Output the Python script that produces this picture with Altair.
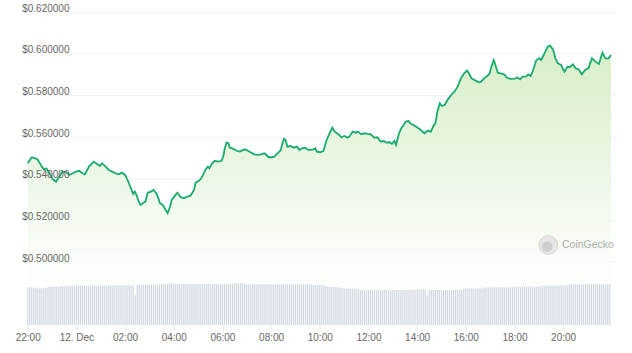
import altair as alt
import pandas as pd

# ---- price series (minutes after 11 Dec 22:00 UTC, price in USD) ----
price_minutes = [
    0, 10, 18, 24, 34, 40, 46, 54, 62, 70,
    78, 86, 95, 103, 111, 119, 127, 135, 141, 151,
    163, 171, 178, 183, 192, 200, 208, 216, 224, 232,
    240, 248, 256, 260, 264, 268, 272, 278, 284, 290,
    296, 304, 310, 317, 323, 326, 333, 339, 345, 351,
    355, 361, 369, 377, 385, 393, 401, 410, 414, 422,
    428, 434, 438, 444, 448, 454, 461, 469, 478, 482,
    486, 490, 495, 498, 507, 515, 523, 535, 543, 551,
    559, 567, 575, 583, 587, 594, 601, 608, 616, 624,
    628, 632, 636, 640, 648, 656, 664, 670, 676, 684,
    692, 696, 704, 709, 713, 721, 729, 737, 745, 751,
    757, 765, 773, 781, 788, 793, 801, 808, 814, 822,
    830, 838, 846, 854, 862, 870, 878, 884, 892, 898,
    904, 908, 915, 921, 927, 932, 939, 943, 955, 967,
    978, 986, 994, 1000, 1005, 1010, 1016, 1021, 1028, 1036,
    1044, 1052, 1060, 1068, 1076, 1083, 1088, 1094, 1104, 1113,
    1118, 1125, 1133, 1139, 1143, 1149, 1153, 1159, 1165, 1175,
    1181, 1189, 1201, 1207, 1214, 1220, 1228, 1234, 1240, 1246,
    1254, 1261, 1266, 1274, 1282, 1288, 1295, 1301, 1307, 1315,
    1323, 1331, 1336, 1344, 1351, 1358, 1366, 1374, 1382, 1391,
    1400, 1408, 1417, 1424, 1432, 1438,
]
prices = [
    0.5475, 0.5504, 0.5499, 0.5494, 0.5462, 0.5446, 0.5451, 0.5427, 0.5398, 0.5387,
    0.5411, 0.5435, 0.5432, 0.5419, 0.5427, 0.5435, 0.5439, 0.5427, 0.5422, 0.5459,
    0.5483, 0.5472, 0.5462, 0.5475, 0.5459, 0.5443, 0.5435, 0.5427, 0.5422, 0.5430,
    0.5419, 0.5387, 0.5347, 0.5328, 0.5339, 0.5323, 0.5299, 0.5275, 0.5283, 0.5291,
    0.5334, 0.5339, 0.5347, 0.5331, 0.5302, 0.5283, 0.5275, 0.5254, 0.5235, 0.5267,
    0.5299, 0.5315, 0.5334, 0.5312, 0.5307, 0.5315, 0.5318, 0.5347, 0.5382, 0.5391,
    0.5403, 0.5427, 0.5443, 0.5459, 0.5451, 0.5472, 0.5487, 0.5483, 0.5487, 0.5507,
    0.5547, 0.5574, 0.5571, 0.5550, 0.5544, 0.5535, 0.5531, 0.5542, 0.5535, 0.5526,
    0.5518, 0.5515, 0.5518, 0.5523, 0.5518, 0.5504, 0.5504, 0.5507, 0.5523, 0.5539,
    0.5571, 0.5592, 0.5587, 0.5555, 0.5558, 0.5550, 0.5555, 0.5539, 0.5547, 0.5550,
    0.5539, 0.5539, 0.5542, 0.5547, 0.5531, 0.5528, 0.5534, 0.5587, 0.5622, 0.5646,
    0.5627, 0.5616, 0.5600, 0.5606, 0.5598, 0.5603, 0.5627, 0.5622, 0.5627, 0.5614,
    0.5619, 0.5616, 0.5614, 0.5598, 0.5600, 0.5579, 0.5582, 0.5574, 0.5576, 0.5568,
    0.5582, 0.5563, 0.5616, 0.5644, 0.5659, 0.5675, 0.5678, 0.5667, 0.5654, 0.5638,
    0.5619, 0.5631, 0.5627, 0.5654, 0.5667, 0.5723, 0.5763, 0.5750, 0.5755, 0.5782,
    0.5803, 0.5819, 0.5843, 0.5883, 0.5907, 0.5920, 0.5907, 0.5883, 0.5872, 0.5864,
    0.5867, 0.5883, 0.5894, 0.5907, 0.5939, 0.5971, 0.5947, 0.5910, 0.5907, 0.5902,
    0.5887, 0.5880, 0.5881, 0.5888, 0.5878, 0.5891, 0.5891, 0.5902, 0.5894, 0.5923,
    0.5971, 0.5979, 0.5971, 0.6003, 0.6035, 0.6040, 0.6022, 0.5979, 0.5955, 0.5947,
    0.5915, 0.5939, 0.5936, 0.5950, 0.5931, 0.5926, 0.5902, 0.5923, 0.5931, 0.5979,
    0.5963, 0.5952, 0.6006, 0.5979, 0.5979, 0.5995,
]

# ---- volume bars, one per 5 minutes (arbitrary units) ----
volumes = [
    3.78, 3.74, 3.77, 3.72, 3.76,
    3.66, 3.68, 3.65, 3.69, 3.70,
    3.82, 3.84, 3.81, 3.85, 3.83, 3.80,
    3.88, 3.91, 3.90, 3.86, 3.92, 3.89, 3.93, 3.90,
    3.96, 3.98, 3.95, 3.97, 3.99, 3.96, 3.94,
    3.92, 3.94, 3.90, 3.93, 3.95, 3.91, 3.93, 3.96, 3.92, 3.94, 3.97, 3.95,
    3.97, 3.99, 3.96, 3.98, 4.00, 3.95, 3.97, 3.99, 3.98, 3.96,
    3.02,
    4.02, 4.04, 4.01, 4.05, 4.03, 4.00, 4.06, 4.02, 4.04, 4.07, 4.03, 4.05, 4.08, 4.12, 4.06, 4.04,
    4.18, 4.15, 4.17,
    4.10, 4.08, 4.11, 4.09, 4.12, 4.10, 4.07, 4.11, 4.13, 4.09, 4.10, 4.12,
    4.08, 4.11, 4.10, 4.09, 4.13, 4.11, 4.08, 4.10, 4.12, 4.09, 4.07,
    4.06, 4.08, 4.05, 4.07, 4.09,
    4.15, 4.18, 4.20, 4.16, 4.14, 4.19, 4.12,
    4.06, 4.08, 4.05, 4.07, 4.09, 4.06, 4.08, 4.07, 4.05, 4.08, 4.06, 4.09, 4.07, 4.06, 4.08, 4.07,
    4.05, 4.08, 4.09, 4.06, 4.07, 4.08, 4.06, 4.07, 4.09, 4.05, 4.07, 4.08, 4.06, 4.07, 4.09, 4.06,
    4.02, 4.00, 3.98, 4.01, 3.99, 4.03, 3.97, 3.95,
    3.88, 3.85, 3.83, 3.82, 3.80, 3.78,
    3.72, 3.70, 3.68, 3.66, 3.67, 3.65, 3.64, 3.62, 3.60, 3.58,
    3.52, 3.50, 3.51, 3.49, 3.50, 3.52, 3.48, 3.50, 3.51, 3.49, 3.47,
    3.50, 3.52, 3.49, 3.50, 3.48, 3.51, 3.50, 3.49, 3.52, 3.50, 3.48,
    3.51, 3.49, 3.50, 3.53, 3.57, 3.56, 3.58, 3.55, 3.57, 3.58, 3.54,
    3.00,
    3.48, 3.50, 3.52, 3.49, 3.51, 3.50, 3.48, 3.52, 3.51, 3.49, 3.50, 3.53, 3.51, 3.52, 3.50, 3.54, 3.55,
    3.66, 3.68, 3.65, 3.67, 3.69, 3.66, 3.64, 3.67, 3.68, 3.66,
    3.76, 3.78, 3.75, 3.77, 3.79, 3.76, 3.78, 3.74, 3.77, 3.79, 3.76, 3.78, 3.75, 3.77, 3.80, 3.78,
    3.82, 3.84, 3.81, 3.85, 3.83, 3.80, 3.84, 3.86, 3.82, 3.83, 3.85, 3.81, 3.84,
    3.92, 3.94, 3.91, 3.95, 3.93, 3.90, 3.96, 3.92, 3.94, 3.97, 3.93, 3.95, 3.98,
    4.05, 4.07, 4.04, 4.08, 4.06, 4.09, 4.05, 4.07, 4.10, 4.06, 4.08,
    4.07, 4.05, 4.09, 4.06, 4.08, 4.10, 4.07, 4.06, 4.09, 4.08,
]
volume_step_minutes = 5

y_tick_values = [0.50, 0.52, 0.54, 0.56, 0.58, 0.60, 0.62]
x_tick_hours = [(11, 22), (12, 0), (12, 2), (12, 4), (12, 6), (12, 8), (12, 10),
                (12, 12), (12, 14), (12, 16), (12, 18), (12, 20)]

base = pd.Timestamp("2023-12-11T22:00:00Z")


def iso(mins):
    return (base + pd.to_timedelta(mins, unit="min")).strftime("%Y-%m-%dT%H:%M:%SZ")


price_df = pd.DataFrame({"t": [iso(m) for m in price_minutes], "p": prices})
vol_df = pd.DataFrame({"t": [iso(i * volume_step_minutes) for i in range(len(volumes))],
                       "v": volumes})
grid_df = pd.DataFrame({"p": y_tick_values})

W, H = 593.3, 312.7
PRICE_DOMAIN = [0.46984, 0.62]

x_scale = alt.Scale(type="utc", domain=[
    alt.DateTime(year=2023, month=12, date=11, hours=22, utc=True),
    alt.DateTime(year=2023, month=12, date=12, hours=21, minutes=58, utc=True),
])
x_axis = alt.Axis(
    values=[alt.DateTime(year=2023, month=12, date=d, hours=h, utc=True) for d, h in x_tick_hours],
    labelExpr="utcFormat(datum.value, '%H:%M') == '00:00' ? '12. Dec' : utcFormat(datum.value, '%H:%M')",
    grid=False, domain=False, ticks=True, tickSize=5, tickColor="#dfe3ea",
    labelPadding=2, labelFontSize=10, labelColor="#666666", labelFont="Liberation Sans",
    labelFlush=True, title=None, zindex=1,
)
X = alt.X("t:T", scale=x_scale, axis=x_axis)

price_scale = alt.Scale(domain=PRICE_DOMAIN, nice=False, zero=False)

grid = alt.Chart(grid_df).mark_rule(color="#f2f2f2", strokeWidth=1).encode(
    y=alt.Y("p:Q", scale=price_scale, axis=None),
    x=alt.value(44.3), x2=alt.value(W),
)

area = alt.Chart(price_df).mark_area(
    line=False,
    color=alt.Gradient(
        gradient="linear",
        stops=[alt.GradientStop(color="#d7eec9", offset=0),
               alt.GradientStop(color="#ffffff", offset=1)],
        x1=1, x2=1, y1=0, y2=1,
    ),
).encode(
    x=X,
    y=alt.Y("p:Q", scale=price_scale, axis=alt.Axis(
        values=y_tick_values, labelExpr="'$' + format(datum.value, '.6f')",
        orient="left", grid=False, domain=False, ticks=False, tickSize=0,
        labelAlign="left", labelBaseline="bottom", labelPadding=1, labelOffset=1,
        labelFontSize=10, labelColor="#666666", labelFont="Liberation Sans", title=None,
        zindex=1,
    )),
    y2=alt.datum(0.487),
)

line = alt.Chart(price_df).mark_line(color="#19aa6e", strokeWidth=1.8).encode(
    x=X,
    y=alt.Y("p:Q", scale=price_scale, axis=None),
)

bars = alt.Chart(vol_df).mark_bar(color="#cfd6e0", width=1.2).encode(
    x=X,
    y=alt.Y("v:Q", scale=alt.Scale(domain=[0, 31.27], nice=False), axis=None),
)

logo_df = pd.DataFrame({"label": ["CoinGecko"]})
logo_circle = alt.Chart(logo_df).mark_circle(
    color="#e6e6e6", opacity=1, stroke="#d6d6d6", strokeWidth=1
).encode(x=alt.value(525.6), y=alt.value(232.7), size=alt.value(350))
logo_inner = alt.Chart(logo_df).mark_circle(color="#cfcfcf", opacity=1).encode(
    x=alt.value(524.6), y=alt.value(234.2), size=alt.value(110))
logo_text = alt.Chart(logo_df).mark_text(
    align="left", baseline="middle", fontSize=10.5, color="#ababab", font="Liberation Sans"
).encode(x=alt.value(539.3), y=alt.value(232.4), text="label:N")

chart = alt.layer(grid, area, line, bars, logo_circle, logo_inner, logo_text).resolve_scale(
    y="independent"
).properties(
    width=W, height=H,
    padding={"left": 22.7, "top": 12.3, "right": 16, "bottom": 28},
    autosize=alt.AutoSizeParams(type="none"),
    background="white",
).configure_view(stroke=None)

chart.save("out.html", embed_options={"renderer": "svg", "actions": False})
